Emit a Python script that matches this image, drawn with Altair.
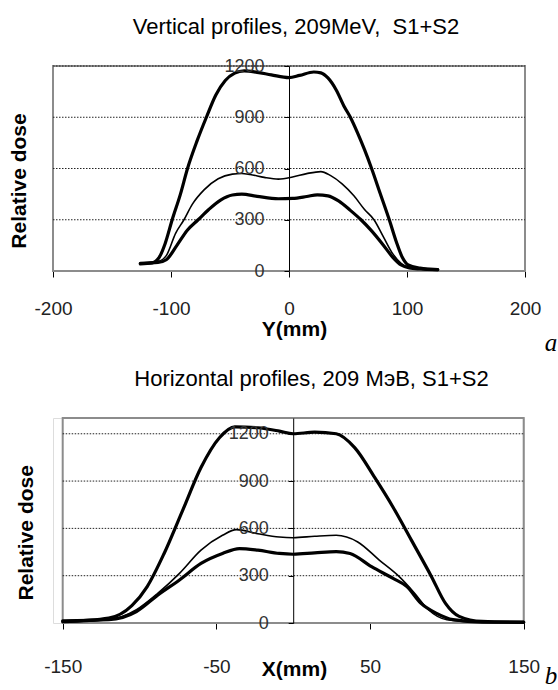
import altair as alt
import pandas as pd

FONT = "Liberation Sans"

# ---------------- Panel (a): vertical profiles ----------------
v_title = "Vertical profiles, 209MeV,\u00a0 S1+S2"
v_x_ticks = [-200, -100, 0, 100, 200]
v_y_ticks = [0, 300, 600, 900, 1200]
v_grid = [300, 600, 900, 1200]

v_hi_x = [-126, -116, -110, -105, -99, -92, -86, -78, -70, -62, -54, -46, -38, -27, -15, 0, 9, 21, 27, 33, 40, 47, 52, 58, 64, 70, 77, 85, 91, 96, 101, 111, 126]
v_hi_y = [42, 48, 80, 160, 300, 450, 600, 760, 900, 1030, 1115, 1158, 1172, 1163, 1148, 1132, 1145, 1165, 1160, 1130, 1060, 960, 900, 810, 710, 600, 460, 300, 170, 80, 35, 17, 8]

v_mid_x = [-126, -111, -104, -96, -89, -82, -72, -60, -48, -40, -33, -21, -9, 3, 15, 27, 35, 45, 55, 64, 72, 80, 88, 95, 102, 111, 126]
v_mid_y = [45, 56, 90, 222, 300, 390, 475, 540, 567, 571, 565, 548, 538, 550, 570, 582, 560, 510, 440, 360, 300, 200, 100, 45, 20, 12, 8]

v_lo_x = [-126, -111, -104, -95, -86, -77, -68, -58, -48, -40, -27, -9, 3, 15, 24, 33, 42, 52, 61, 70, 79, 88, 95, 102, 111, 126]
v_lo_y = [45, 50, 66, 150, 240, 300, 360, 415, 445, 450, 437, 423, 425, 436, 446, 440, 410, 355, 300, 235, 160, 80, 35, 18, 12, 8]

# ---------------- Panel (b): horizontal profiles ----------------
h_title = "Horizontal profiles, 209 МэВ, S1+S2"
h_x_ticks = [-150, -50, 50, 150]
h_y_ticks = [0, 300, 600, 900, 1200]
h_grid = [300, 600, 900, 1200]

h_hi_x = [-150, -120, -105, -95, -84, -72, -60, -48, -38, -23, -9, 0, 14, 28, 40, 53, 65, 77, 90, 99, 108, 123, 150]
h_hi_y = [8, 31, 110, 231, 441, 713, 986, 1175, 1244, 1238, 1217, 1200, 1210, 1200, 1112, 923, 734, 524, 294, 126, 42, 10, 4]

h_mid_x = [-150, -120, -102, -88, -74, -60, -46, -37, -23, -9, 0, 14, 28, 42, 56, 69, 79, 88, 100, 123, 150]
h_mid_y = [8, 21, 84, 189, 315, 462, 556, 592, 566, 545, 541, 550, 556, 514, 399, 294, 189, 84, 21, 6, 4]

h_lo_x = [-150, -120, -102, -88, -74, -60, -46, -35, -23, -9, 0, 14, 28, 37, 51, 65, 74, 83, 93, 104, 123, 150]
h_lo_y = [14, 21, 73, 178, 273, 378, 441, 472, 462, 441, 436, 445, 453, 441, 357, 283, 231, 126, 63, 21, 6, 6]

curve_widths = [3.2, 1.6, 3.2]   # high, mid, low


def curve_df(xs, ys):
    return pd.DataFrame({"order": list(range(len(xs))), "pos": xs, "dose": ys})


def panel(curves, title_text, title_dx, title_offset, x_domain, x_ticks, x_range, width, height,
          y_domain, y_ticks, grid_vals, x_title, x_title_x, x_title_y, x_label_pad,
          y_offset, y_title_x, y_title_y, letter, letter_x, letter_y):
    x_scale = alt.Scale(domain=x_domain, range=x_range, nice=False, zero=False)
    y_scale = alt.Scale(domain=y_domain, nice=False, zero=False)
    x_axis = alt.Axis(
        title=x_title, values=x_ticks, labelExpr="datum.value + ''",
        labelFont=FONT, labelFontSize=19, labelColor="#222",
        labelFlush=False, labelOverlap=False, labelBaseline="middle",
        labelPadding=x_label_pad, tickSize=6, tickColor="black",
        domainColor="black", domainWidth=1.2, grid=False,
        titleFont=FONT, titleFontSize=21, titleFontWeight="bold", titleColor="black",
        titleX=x_title_x, titleY=x_title_y, titleBaseline="middle", titleAlign="center",
    )
    y_axis = alt.Axis(
        title="Relative dose", values=y_ticks, labelExpr="datum.value + ''",
        labelFont=FONT, labelFontSize=18, labelColor="#333",
        labelPadding=20, tickSize=5, tickColor="black",
        domainColor="black", domainWidth=1, grid=False, offset=y_offset,
        titleFont=FONT, titleFontSize=21, titleFontWeight="bold", titleColor="black",
        titleX=y_title_x, titleY=y_title_y, titleAngle=270,
        titleBaseline="middle", titleAlign="center", zindex=1,
    )

    frame_df = pd.DataFrame({"x0": [x_domain[0]], "x1": [x_domain[1]],
                             "y0": [y_domain[0]], "y1": [y_domain[1]]})
    frame = alt.Chart(frame_df).mark_rect(fillOpacity=0, stroke="#8c8c8c", strokeWidth=2).encode(
        x=alt.X("x0:Q", scale=x_scale, axis=x_axis),
        x2="x1:Q",
        y=alt.Y("y0:Q", scale=y_scale, axis=y_axis),
        y2="y1:Q",
    )

    grid_df = pd.DataFrame({"g": grid_vals, "x0": [x_domain[0]] * len(grid_vals),
                            "x1": [x_domain[1]] * len(grid_vals)})
    grid = alt.Chart(grid_df).mark_rule(color="#222", strokeWidth=1, strokeDash=[1.5, 1.5]).encode(
        x=alt.X("x0:Q", scale=x_scale, axis=x_axis),
        x2="x1:Q",
        y=alt.Y("g:Q", scale=y_scale, axis=y_axis),
    )

    line_layers = []
    for (xs, ys), w in zip(curves, curve_widths):
        line_layers.append(
            alt.Chart(curve_df(xs, ys)).mark_line(
                interpolate="monotone", color="black", strokeWidth=w,
                strokeJoin="round", strokeCap="round").encode(
                x=alt.X("pos:Q", scale=x_scale, axis=x_axis),
                y=alt.Y("dose:Q", scale=y_scale, axis=y_axis),
                order="order:Q",
            )
        )

    letter_df = pd.DataFrame({"t": [letter]})
    lab = alt.Chart(letter_df).mark_text(font="Liberation Serif", fontStyle="italic", fontSize=25,
                                         color="black", align="center", baseline="middle").encode(
        x=alt.value(letter_x), y=alt.value(letter_y), text="t:N")

    return alt.layer(frame, grid, *line_layers, lab).properties(
        width=width, height=height,
        title=alt.TitleParams(title_text, font=FONT, fontSize=22, fontWeight="normal", color="black",
                              anchor="middle", dx=title_dx, offset=title_offset, baseline="alphabetic"),
    )


top = panel(
    [(v_hi_x, v_hi_y), (v_mid_x, v_mid_y), (v_lo_x, v_lo_y)],
    v_title, 7, 1,
    [-200, 200], v_x_ticks, [0, 472], 472, 205,
    [0, 1200], v_y_ticks, v_grid,
    "Y(mm)", 241, 58, 31,
    -236, -270, 114.5,
    "a", 498, 277,
)

bottom = panel(
    [(h_hi_x, h_hi_y), (h_mid_x, h_mid_y), (h_lo_x, h_lo_y)],
    h_title, 23, 9,
    [-150, 150], h_x_ticks, [9.7, 470.7], 471, 205,
    [0, 1300], h_y_ticks, h_grid,
    "X(mm)", 241, 46, 37,
    -240.2, -267.2, 114.3,
    "b", 498, 258,
)

chart = alt.vconcat(top, bottom, spacing=10).properties(
    padding={"left": 7, "top": 15, "right": 0, "bottom": 0}
).configure_view(strokeWidth=0).configure(background="white")

chart.save("out.html", embed_options={"renderer": "svg", "actions": False})
